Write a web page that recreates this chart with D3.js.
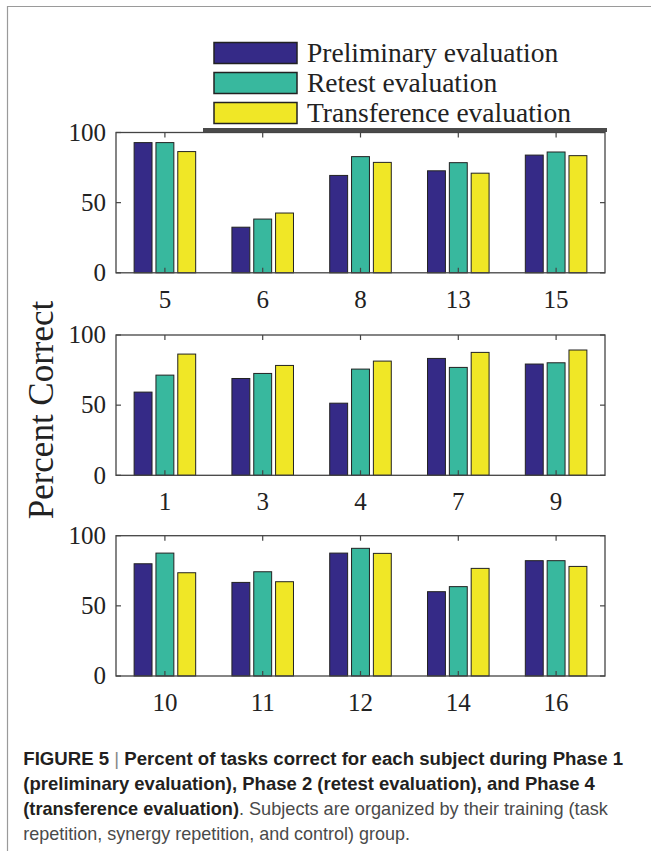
<!DOCTYPE html>
<html>
<head>
<meta charset="utf-8">
<script src="https://cdn.jsdelivr.net/npm/d3@7"></script>
<style>
  html, body { margin: 0; padding: 0; background: #fff; }
  svg { display: block; }
</style>
</head>
<body>
<div id="chart"></div>
<script>
// subjects in each panel (task repetition, synergy repetition, control)
const panelSubjects = [
  ['5', '6', '8', '13', '15'],
  ['1', '3', '4', '7', '9'],
  ['10', '11', '12', '14', '16']
];

// percent correct, one row per panel
const preliminary = [
  [92.8, 32.5, 69.4, 72.7, 83.9],
  [59.3, 69.0, 51.4, 83.3, 79.3],
  [80.0, 66.7, 87.6, 60.1, 82.2]
];
const retest = [
  [92.8, 38.3, 82.8, 78.5, 86.1],
  [71.4, 72.6, 75.7, 76.9, 80.2],
  [87.6, 74.3, 91.0, 63.7, 82.2]
];
const transference = [
  [86.4, 42.6, 78.7, 71.0, 83.5],
  [86.4, 78.3, 81.4, 87.6, 89.3],
  [73.6, 67.2, 87.4, 76.7, 78.1]
];

const seriesNames = ['Preliminary evaluation', 'Retest evaluation', 'Transference evaluation'];
const seriesColors = ['#352a87', '#38b89e', '#f0e726'];
const yTicks = [0, 50, 100];

const captionLines = [
  [{ t: 'FIGURE 5 ', b: true }, { t: '|', sep: true }, { t: ' Percent of tasks correct for each subject during Phase 1', b: true }],
  [{ t: '(preliminary evaluation), Phase 2 (retest evaluation), and Phase 4', b: true }],
  [{ t: '(transference evaluation)', b: true }, { t: '. Subjects are organized by their training (task', b: false }],
  [{ t: 'repetition, synergy repetition, and control) group.', b: false }]
];
// widths of the caption lines in the picture
const captionWidths = [600, 572, 585, 387];

const W = 651, H = 851;
const serif = '"Liberation Serif", "Times New Roman", serif';
const sans = '"Liberation Sans", Arial, Helvetica, sans-serif';

const svg = d3.select('#chart')
  .append('svg')
  .attr('width', W)
  .attr('height', H);

// figure frame (top and left edges only)
svg.append('path')
  .attr('d', `M7.5,${H} V6.5 H${W}`)
  .attr('fill', 'none')
  .attr('stroke', '#9a9a9a')
  .attr('stroke-width', 1.2);

const plotLeft = 116, plotRight = 605;
const panelTops = [132.5, 335, 535.7];
const panelHeight = 140.3;

panelSubjects.forEach((subjects, p) => {
  const top = panelTops[p];
  const g = svg.append('g').attr('transform', `translate(0,${top})`);

  const x = d3.scaleBand().domain(subjects).range([plotLeft, plotRight]).padding(0);
  const inner = d3.scaleBand()
    .domain(d3.range(3))
    .range([0, x.bandwidth()])
    .paddingInner(0.18)
    .paddingOuter(0.83);
  const y = d3.scaleLinear().domain([0, 100]).range([panelHeight, 0]);

  const rows = subjects.map((s, i) => ({
    subject: s,
    values: [preliminary[p][i], retest[p][i], transference[p][i]]
  }));

  // bars
  g.selectAll('.group')
    .data(rows)
    .join('g')
    .attr('class', 'group')
    .attr('transform', (d) => `translate(${x(d.subject)},0)`)
    .selectAll('rect')
    .data((d) => d.values.map((v, k) => ({ k, v })))
    .join('rect')
    .attr('x', (d) => inner(d.k))
    .attr('width', inner.bandwidth())
    .attr('y', (d) => y(d.v))
    .attr('height', (d) => y(0) - y(d.v))
    .attr('fill', (d) => seriesColors[d.k])
    .attr('stroke', '#222')
    .attr('stroke-width', 1);

  // axes box
  g.append('rect')
    .attr('x', plotLeft)
    .attr('y', 0)
    .attr('width', plotRight - plotLeft)
    .attr('height', panelHeight)
    .attr('fill', 'none')
    .attr('stroke', '#444')
    .attr('stroke-width', 1.3);

  // inward ticks on all four sides, like matlab with box on
  const tickLen = 5;
  const ticks = g.append('g').attr('stroke', '#444').attr('stroke-width', 1.2);
  subjects.forEach((s) => {
    const cx = x(s) + x.bandwidth() / 2;
    ticks.append('line').attr('x1', cx).attr('x2', cx).attr('y1', 0).attr('y2', tickLen);
    ticks.append('line').attr('x1', cx).attr('x2', cx).attr('y1', panelHeight).attr('y2', panelHeight - tickLen);
  });
  yTicks.forEach((t) => {
    ticks.append('line').attr('x1', plotLeft).attr('x2', plotLeft + tickLen).attr('y1', y(t)).attr('y2', y(t));
    ticks.append('line').attr('x1', plotRight).attr('x2', plotRight - tickLen).attr('y1', y(t)).attr('y2', y(t));
  });

  // y tick labels
  g.selectAll('.ylab')
    .data(yTicks)
    .join('text')
    .attr('class', 'ylab')
    .attr('x', plotLeft - 10)
    .attr('y', (d) => y(d))
    .attr('dy', '0.33em')
    .attr('text-anchor', 'end')
    .attr('font-family', serif)
    .attr('font-size', 25)
    .attr('fill', '#222')
    .text((d) => d);

  // x tick labels
  g.selectAll('.xlab')
    .data(subjects)
    .join('text')
    .attr('class', 'xlab')
    .attr('x', (d) => x(d) + x.bandwidth() / 2)
    .attr('y', panelHeight + 35)
    .attr('text-anchor', 'middle')
    .attr('font-family', serif)
    .attr('font-size', 25)
    .attr('fill', '#222')
    .text((d) => d);
});

// shared y label
svg.append('text')
  .attr('transform', 'translate(53,410) rotate(-90)')
  .attr('text-anchor', 'middle')
  .attr('font-family', serif)
  .attr('font-size', 35)
  .attr('fill', '#222')
  .text('Percent Correct');

// legend
const legend = svg.append('g');
const legendRows = legend.selectAll('g')
  .data(seriesNames)
  .join('g')
  .attr('transform', (d, i) => `translate(214,${53 + i * 30})`);

legendRows.append('rect')
  .attr('x', 0)
  .attr('y', -10.5)
  .attr('width', 83)
  .attr('height', 21)
  .attr('fill', (d, i) => seriesColors[i])
  .attr('stroke', '#222')
  .attr('stroke-width', 1.5);

legendRows.append('text')
  .attr('x', 93)
  .attr('y', 8.7)
  .attr('font-family', serif)
  .attr('font-size', 27.5)
  .attr('fill', '#222')
  .text((d) => d);

// bottom edge of the legend box, drawn over the first panel
legend.append('line')
  .attr('x1', 203)
  .attr('x2', 607)
  .attr('y1', 130)
  .attr('y2', 130)
  .attr('stroke', '#4a4a4a')
  .attr('stroke-width', 4);

// caption
const caption = svg.append('g');
captionLines.forEach((parts, i) => {
  const line = caption.append('text')
    .attr('font-family', sans)
    .attr('font-size', 17.5)
    .attr('fill', '#231f20');
  parts.forEach((part) => {
    line.append('tspan')
      .attr('font-weight', part.b ? 'bold' : 'normal')
      .attr('fill', part.sep ? '#888' : (part.b ? '#231f20' : '#4a4a4a'))
      .text(part.t);
  });
  const w = line.node().getComputedTextLength();
  const sx = captionWidths[i] / w;
  line.attr('transform', `translate(23.3,${765 + i * 25}) scale(${sx},1)`);
});
</script>
</body>
</html>
